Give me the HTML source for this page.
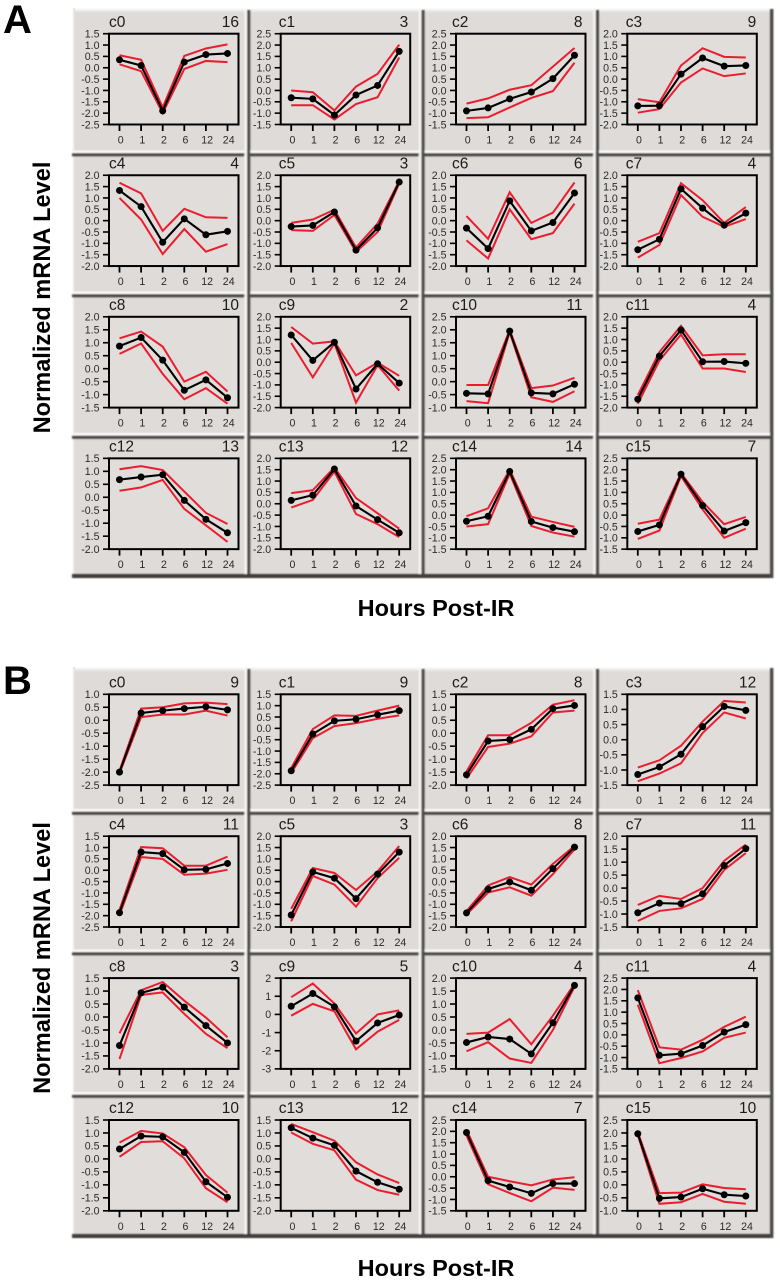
<!DOCTYPE html>
<html lang="en">
<head>
<meta charset="utf-8">
<title>Normalized mRNA Level clusters</title>
<style>
html,body{margin:0;padding:0;background:#fff;width:780px;height:1280px;overflow:hidden}
svg{display:block;position:absolute;left:0;top:0}
text{font-family:"Liberation Sans",sans-serif}
</style>
</head>
<body>
<svg id="fig" xmlns="http://www.w3.org/2000/svg" width="780" height="1280" viewBox="0 0 780 1280">
  <defs>
    <filter id="soft" x="-5%" y="-5%" width="110%" height="110%"><feGaussianBlur stdDeviation="0.8"/></filter>
    <filter id="fine" x="-2%" y="-2%" width="104%" height="104%"><feGaussianBlur stdDeviation="0.35"/></filter>
    <linearGradient id="fadeTop" x1="0" y1="0" x2="0" y2="1"><stop offset="0" stop-color="#fff"/><stop offset="1" stop-color="#dedbd8"/></linearGradient>
    <linearGradient id="fadeLeft" x1="0" y1="0" x2="1" y2="0"><stop offset="0" stop-color="#fff"/><stop offset="1" stop-color="#dedbd8"/></linearGradient>
  </defs>
  <g id="root" filter="url(#fine)"></g>
  <text x="3" y="33" font-size="40" font-weight="700" fill="#000">A</text>
  <text x="3" y="694" font-size="40" font-weight="700" fill="#000">B</text>
  <text transform="translate(50,297.5) rotate(-90)" text-anchor="middle" font-size="23.6" font-weight="700" fill="#000">Normalized mRNA Level</text>
  <text transform="translate(50,958) rotate(-90)" text-anchor="middle" font-size="23.6" font-weight="700" fill="#000">Normalized mRNA Level</text>
  <text x="436" y="616" text-anchor="middle" font-size="23.5" font-weight="700" fill="#000">Hours Post-IR</text>
  <text x="436" y="1276" text-anchor="middle" font-size="23.5" font-weight="700" fill="#000">Hours Post-IR</text>
</svg>
<script>
const hourLabels = ['0','1','2','6','12','24'];
const clusterNames = ['c0','c1','c2','c3','c4','c5','c6','c7','c8','c9','c10','c11','c12','c13','c14','c15'];

const countsA = [16,3,8,9,4,3,6,4,10,2,11,4,13,12,14,7];
const yMaxA = [1.5,2.5,2.5,2,2,2,2,2,2,2,2.5,2,1.5,2,2.5,2.5];
const yMinA = [-2.5,-1.5,-1.5,-2,-2,-2,-2,-2,-1.5,-2,-1,-2,-2,-2,-1.5,-1.5];
const yStepA = [.5,.5,.5,.5,.5,.5,.5,.5,.5,.5,.5,.5,.5,.5,.5,.5];
const meanA = [
 [.35,.1,-1.9,.25,.58,.63],[-.32,-.37,-1.08,-.2,.22,1.72],[-.9,-.77,-.37,-.07,.52,1.55],[-1.18,-1.17,.22,.93,.57,.6],
 [1.33,.62,-.95,.08,-.62,-.47],[-.26,-.21,.38,-1.3,-.32,1.7],[-.33,-1.23,.87,-.45,-.08,1.22],[-1.28,-.82,1.4,.55,-.2,.33],
 [.87,1.2,.33,-.83,-.43,-1.12],[1.2,.08,.88,-1.18,-.07,-.92],[-.45,-.47,1.95,-.43,-.47,-.1],[-1.63,.27,1.42,.02,.03,-.05],
 [.68,.78,.87,-.12,-.85,-1.37],[.15,.38,1.53,-.1,-.7,-1.28],[-.27,-.05,1.92,-.28,-.55,-.73],[-.72,-.43,1.8,.42,-.7,-.33]
];
const upperA = [
 [.55,.35,-1.75,.52,.85,1.03],[0,-.08,-.88,.17,.73,2.02],[-.58,-.35,.03,.23,1.05,1.87],[-.88,-1.02,.6,1.36,.98,.95],
 [1.67,1.2,-.45,.52,.15,.12],[-.1,.05,.48,-1.18,-.13,1.75],[.2,-.8,1.25,-.1,.35,1.68],[-.93,-.55,1.65,.9,-.1,.6],
 [1.17,1.43,.85,-.5,-.12,-.88],[1.55,.82,.92,-.58,-.02,-.6],[-.13,-.13,2,-.25,-.15,.15],[-1.45,.45,1.6,.3,.35,.35],
 [1.08,1.2,1.05,.22,-.6,-1.03],[.47,.6,1.6,.25,-.42,-1.1],[-.05,.3,2,-.07,-.3,-.52],[-.38,-.2,1.85,.58,-.4,-.08]
];
const lowerA = [
 [.15,-.15,-2,-.05,.3,.25],[-.65,-.65,-1.28,-.6,-.3,1.45],[-1.22,-1.18,-.75,-.33,-.03,1.22],[-1.48,-1.32,-.15,.47,.13,.25],
 [1,.05,-1.47,-.37,-1.37,-1.03],[-.42,-.45,.25,-1.38,-.5,1.63],[-.87,-1.67,.5,-.82,-.55,.75],[-1.63,-1.07,1.13,.17,-.27,.07],
 [.57,.97,-.2,-1.18,-.75,-1.35],[.85,-.67,.83,-1.78,-.13,-1.25],[-.75,-.83,1.9,-.6,-.78,-.37],[-1.83,.07,1.22,-.28,-.28,-.43],
 [.25,.38,.67,-.45,-1.08,-1.72],[-.17,.17,1.42,-.45,-.9,-1.47],[-.5,-.4,1.83,-.48,-.77,-.95],[-1.05,-.68,1.72,.25,-1,-.6]
];

const countsB = [9,9,8,12,11,3,8,11,3,5,4,4,10,12,7,10];
const yMaxB = [1,1.5,1.5,1.5,1.5,2,2,2,1.5,2,2,2.5,1.5,1.5,2.5,2.5];
const yMinB = [-2.5,-2.5,-2,-1.5,-2.5,-2,-2,-1.5,-2,-3,-1.5,-1.5,-2,-2,-1.5,-1];
const yStepB = [.5,.5,.5,.5,.5,.5,.5,.5,.5,1,.5,.5,.5,.5,.5,.5];
const meanB = [
 [-2,.28,.37,.45,.52,.4],[-1.87,-.25,.33,.4,.6,.78],[-1.6,-.3,-.25,.15,.95,1.07],[-1.15,-.9,-.48,.43,1.1,.97],
 [-1.87,.8,.73,.02,.04,.3],[-1.47,.43,.15,-.75,.33,1.3],[-1.38,-.33,-.02,-.38,.57,1.52],[-.95,-.58,-.6,-.22,.87,1.52],
 [-1.1,.93,1.15,.38,-.33,-1],[.45,1.15,.42,-1.47,-.47,-.03],[-.48,-.27,-.35,-.92,.28,1.72],[1.63,-.9,-.83,-.47,.12,.45],
 [.38,.88,.85,.25,-.88,-1.48],[1.2,.8,.52,-.47,-.9,-1.17],[1.95,-.17,-.45,-.73,-.3,-.3],[1.97,-.52,-.47,-.15,-.38,-.43]
];
const upperB = [
 [-1.95,.45,.5,.65,.68,.62],[-1.75,-.03,.57,.55,.78,1],[-1.47,-.08,-.08,.4,1.1,1.27],[-.92,-.68,-.2,.6,1.28,1.23],
 [-1.75,1.02,.97,.2,.2,.6],[-1.2,.6,.38,-.37,.45,1.57],[-1.3,-.17,.2,-.13,.78,1.57],[-.65,-.3,-.42,0,1.05,1.68],
 [-.63,1.03,1.35,.63,-.02,-.78],[.95,1.7,.6,-1.05,0,.22],[-.15,-.1,.42,-.55,.55,1.78],[1.97,-.55,-.65,-.22,.35,.8],
 [.63,1.08,.98,.45,-.62,-1.3],[1.35,1.03,.7,-.13,-.6,-.93],[2.07,0,-.2,-.38,-.12,-.02],[2.03,-.32,-.3,.02,-.12,-.17]
];
const lowerB = [
 [-2.05,.12,.22,.22,.37,.18],[-1.97,-.43,.1,.23,.42,.57],[-1.75,-.53,-.4,-.12,.8,.87],[-1.37,-1.12,-.78,.22,.9,.7],
 [-1.97,.58,.5,-.2,-.15,.02],[-1.75,.25,-.13,-1.1,.15,1.05],[-1.45,-.48,-.25,-.62,.33,1.42],[-1.27,-.88,-.78,-.42,.7,1.35],
 [-1.62,.85,.95,.12,-.65,-1.2],[-.07,.58,.17,-1.92,-.95,-.3],[-.82,-.47,-1.1,-1.27,0,1.67],[1.33,-1.25,-1.02,-.73,-.13,.1],
 [.08,.65,.68,.02,-1.13,-1.67],[1.02,.58,.33,-.8,-1.2,-1.38],[1.82,-.33,-.72,-1.08,-.48,-.58],[1.92,-.73,-.67,-.35,-.65,-.73]
];

const NS = 'http://www.w3.org/2000/svg';
const root = document.getElementById('root');

function make(parent, tag, attrs) {
  const el = document.createElementNS(NS, tag);
  for (const k in attrs) el.setAttribute(k, attrs[k]);
  parent.appendChild(el);
  return el;
}

function drawFrame(parent, top, bottom, darkRows) {
  const left = 72, right = 773;
  const darkCols = [248.5, 422.8, 597.2];
  make(parent, 'rect', {x: left, y: top, width: right - left, height: bottom - top, fill: '#dedbd8'});
  make(parent, 'rect', {x: left, y: top, width: right - left, height: 5, fill: 'url(#fadeTop)'});
  make(parent, 'rect', {x: left, y: top, width: 3, height: bottom - top, fill: 'url(#fadeLeft)'});
  const grooves = make(parent, 'g', {filter: 'url(#soft)'});
  darkRows.forEach(function (y) {
    make(grooves, 'rect', {x: left, y: y - 4, width: right - left, height: 2.6, fill: '#fbfafa'});
    make(grooves, 'rect', {x: left, y: y - 1.4, width: right - left, height: 3.2, fill: '#484642'});
  });
  darkCols.forEach(function (x) {
    make(grooves, 'rect', {x: x - 4, y: top, width: 2.6, height: bottom - top, fill: '#f8f7f7'});
    make(grooves, 'rect', {x: x - 1.4, y: top + 2, width: 3.2, height: bottom - top - 2, fill: '#4e4c49'});
  });
  make(grooves, 'rect', {x: left, y: bottom - 4, width: right - left, height: 4, fill: '#3f3d3a'});
  make(grooves, 'rect', {x: right - 3, y: top + 1, width: 3.4, height: bottom - top - 1, fill: '#4e4c49'});
}

function colLeft(c) {
  if (c === 0) return 109;
  if (c === 1) return 280.7;
  if (c === 2) return 456;
  return 627.3;
}
function titleShift(c) {
  if (c === 0) return 0;
  if (c === 1) return -2;
  if (c === 2) return -4;
  return -1.5;
}
function countShift(c) {
  if (c === 0) return 130;
  if (c === 1) return 127.5;
  if (c === 2) return 126.5;
  return 129;
}

function polyPoints(values, sx, sy) {
  return values.map(function (v, i) { return sx(i).toFixed(2) + ',' + sy(v).toFixed(2); }).join(' ');
}

function drawCell(parent, idx, left, top, height, cfg) {
  const width = 129.5, col = idx % 4;
  const ymax = cfg.yMax[idx], ymin = cfg.yMin[idx], step = cfg.yStep[idx];
  const bottom = top + height;
  const sx = function (i) { return left + 10.5 + i * 21.6; };
  const sy = function (v) { return top + (ymax - v) / (ymax - ymin) * height; };

  const g = make(parent, 'g', {});
  
  

  const title = make(g, 'text', {x: left + titleShift(col), y: top - 6.8, 'font-size': 15.5, fill: '#1a1a1a'});
  title.textContent = clusterNames[idx];
  
  

  const count = make(g, 'text', {x: left + countShift(col), y: top - 6.8, 'font-size': 15.5, fill: '#1a1a1a', 'text-anchor': 'end'});
  count.textContent = String(cfg.counts[idx]);
  
  

  const plot = make(g, 'rect', {x: left, y: top, width: width, height: height, fill: '#e0dddb', stroke: '#000', 'stroke-width': 2});
  
  

  const n = Math.round((ymax - ymin) / step);
  for (let k = 0; k <= n; k++) {
    const v = ymax - k * step;
    const y = sy(v);
    const tick = make(g, 'line', {x1: left - 6, x2: left, y1: y, y2: y, stroke: '#000', 'stroke-width': 1.6});
    
    
    const lab = make(g, 'text', {x: left - 9.5, y: y + 3.8, 'font-size': 10.6, fill: '#2a2a2a', 'text-anchor': 'end'});
    lab.textContent = step === 1 ? String(Math.round(v)) : v.toFixed(1);
    
    
  }
  hourLabels.forEach(function (h, i) {
    const x = sx(i);
    const tick = make(g, 'line', {x1: x, x2: x, y1: bottom, y2: bottom + 6.5, stroke: '#000', 'stroke-width': 1.8});
    
    
    const lab = make(g, 'text', {x: x + 1.2, y: bottom + 19, 'font-size': 10.6, fill: '#2a2a2a', 'text-anchor': 'middle'});
    lab.textContent = h;
    
    
  });

  const up = make(g, 'polyline', {points: polyPoints(cfg.upper[idx], sx, sy), fill: 'none', stroke: '#ea1f2e', 'stroke-width': 2, 'stroke-linejoin': 'miter'});
  
  

  const lo = make(g, 'polyline', {points: polyPoints(cfg.lower[idx], sx, sy), fill: 'none', stroke: '#ea1f2e', 'stroke-width': 2, 'stroke-linejoin': 'miter'});
  
  

  const mean = make(g, 'polyline', {points: polyPoints(cfg.mean[idx], sx, sy), fill: 'none', stroke: '#000', 'stroke-width': 2.1});
  
  

  cfg.mean[idx].forEach(function (v, i) {
    const dot = make(g, 'circle', {cx: sx(i), cy: sy(v), r: 3.5, fill: '#000'});
    
    
  });
}

function drawPanel(cfg) {
  const g = make(root, 'g', {});
  
  
  drawFrame(g, cfg.top, cfg.bottom, cfg.darkRows);
  for (let i = 0; i < 16; i++) {
    const c = i % 4, r = Math.floor(i / 4);
    drawCell(g, i, colLeft(c), cfg.rowTop(r), cfg.rowHeight, cfg);
  }
}

drawPanel({
  prefix: 'panel-a', top: 8, bottom: 578, darkRows: [154.5, 295.5, 437],
  rowTop: function (r) { return 33.7 + r * 141.55; }, rowHeight: 90.8,
  counts: countsA, yMax: yMaxA, yMin: yMinA, yStep: yStepA, mean: meanA, upper: upperA, lower: lowerA
});
drawPanel({
  prefix: 'panel-b', top: 667, bottom: 1238, darkRows: [813, 953.5, 1096],
  rowTop: function (r) { return 694.3 + r * 141.9; }, rowHeight: 90.8,
  counts: countsB, yMax: yMaxB, yMin: yMinB, yStep: yStepB, mean: meanB, upper: upperB, lower: lowerB
});
</script>
</body>
</html>
